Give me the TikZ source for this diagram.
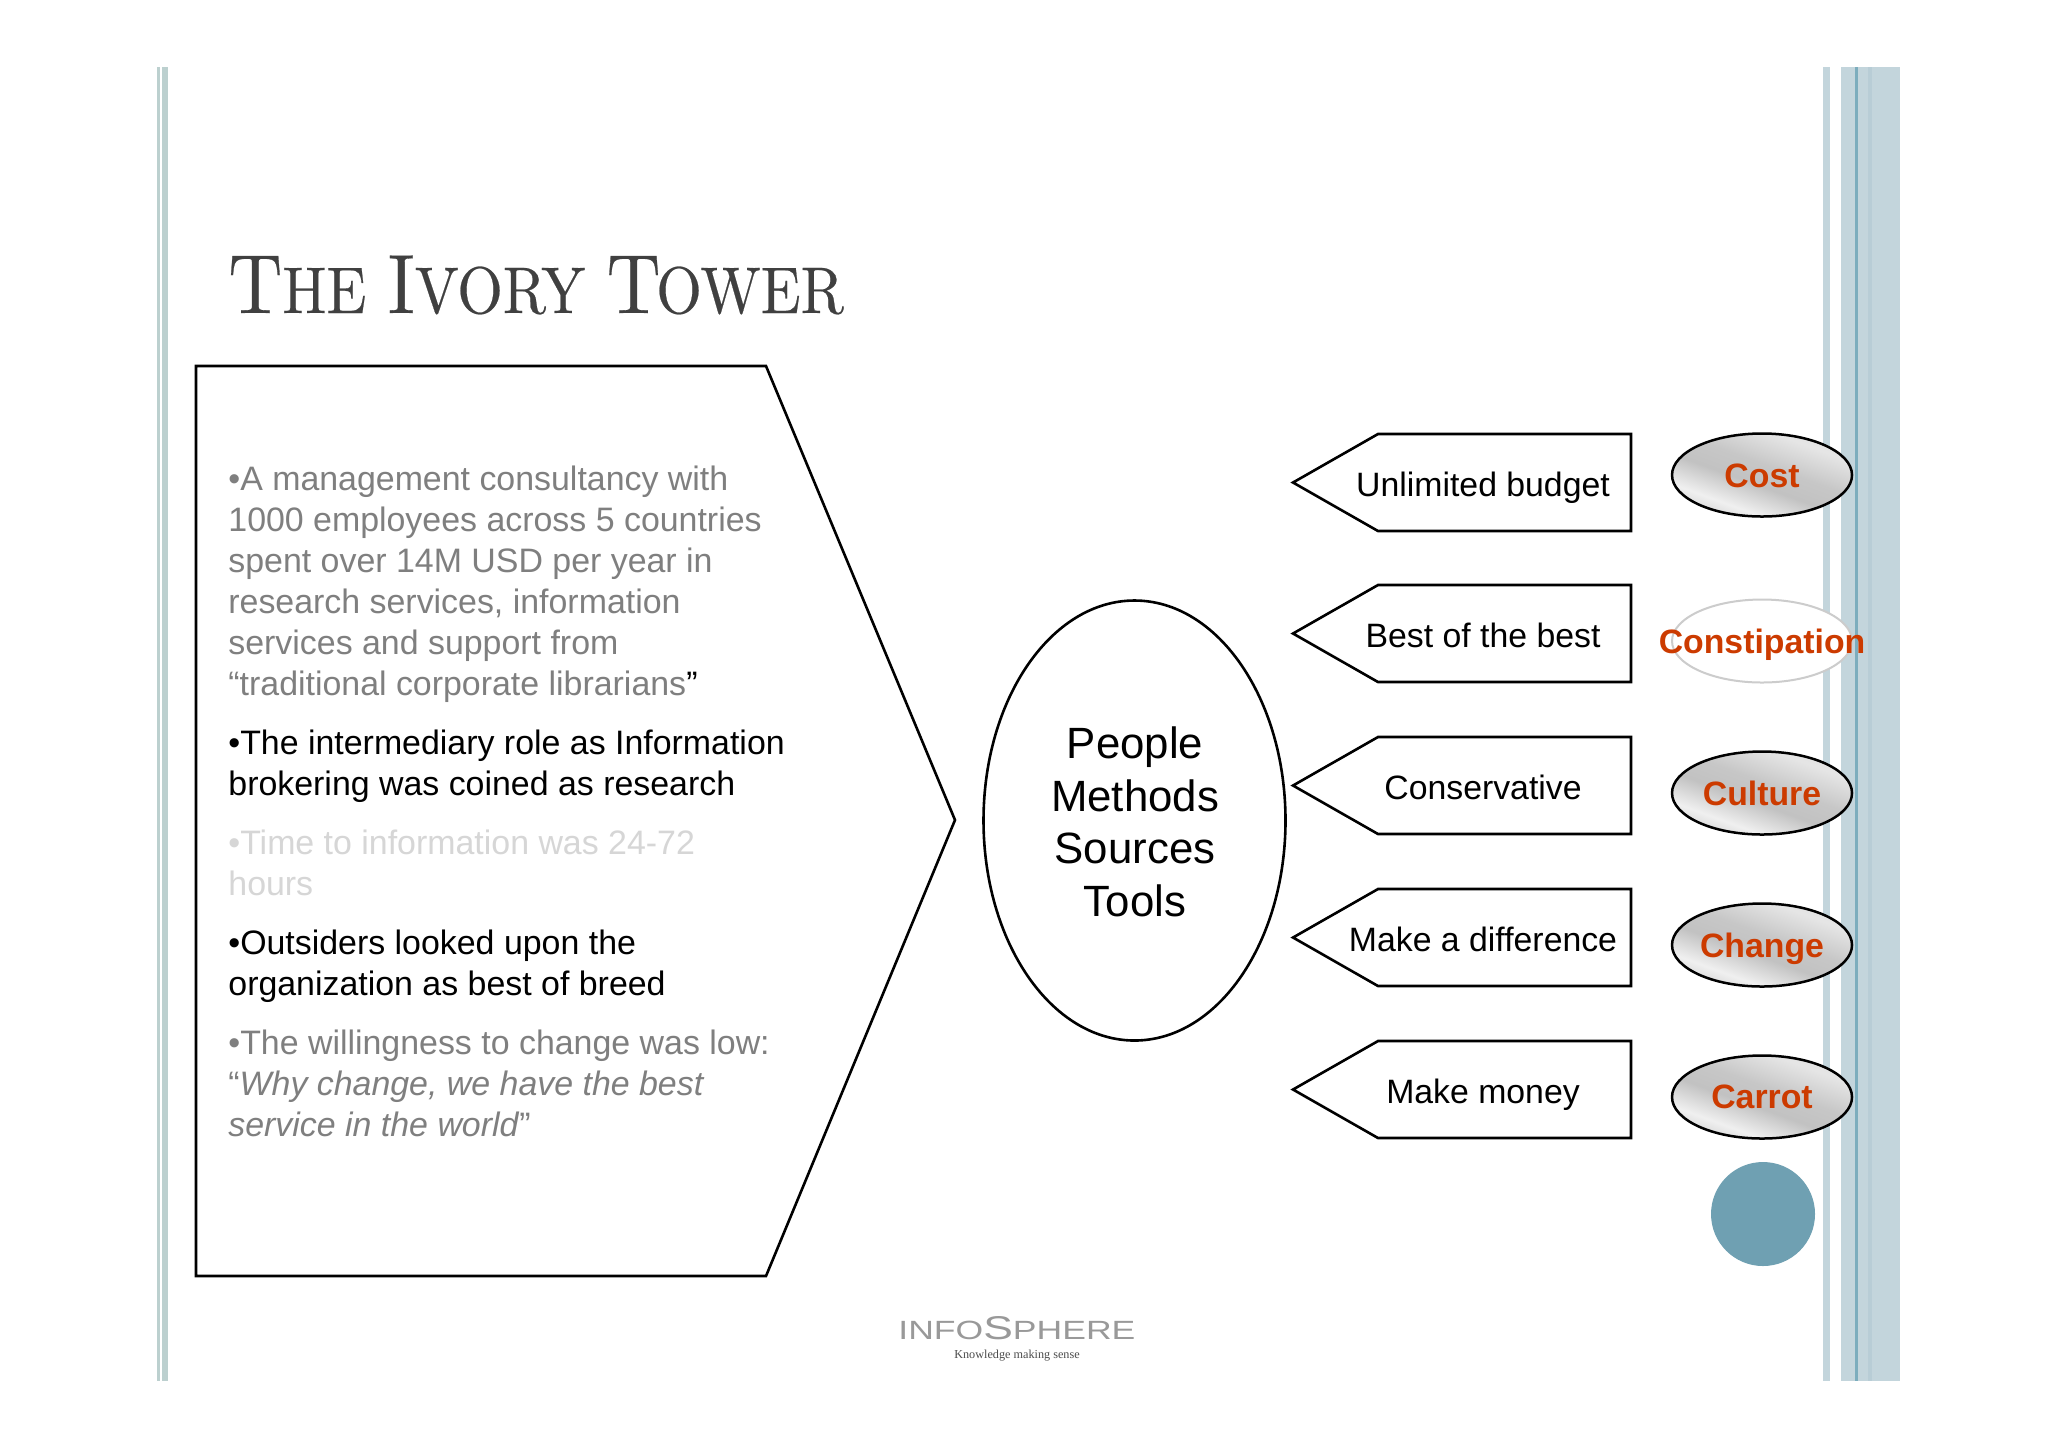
\documentclass[tikz,border=0pt]{standalone}
\usepackage{fontspec}
\setmainfont{Latin Modern Roman}
\newfontfamily\arialf{Liberation Sans}
\newfontfamily\timesf{Liberation Serif}
\newfontfamily\lmten[Extension=.otf,FakeBold=0.35]{lmroman10-regular}
\usetikzlibrary{shapes.geometric}
\definecolor{stripe}{HTML}{C3D5DC}
\definecolor{stripel}{HTML}{BCD0CF}
\definecolor{stripedk}{HTML}{B8CDD6}
\definecolor{teal}{HTML}{6FA0B2}
\definecolor{tealline}{HTML}{7CADBD}
\definecolor{redt}{HTML}{CC3B00}
\definecolor{titlec}{HTML}{404040}
\definecolor{midgray}{HTML}{7F7F7F}
\definecolor{lightt}{HTML}{D6D6D6}
\pgfdeclarehorizontalshading{sheen}{100bp}{
  color(0bp)=(black!22);
  color(30bp)=(black!10);
  color(45bp)=(black!22);
  color(55bp)=(black!24);
  color(68bp)=(black!6);
  color(80bp)=(black!22);
  color(100bp)=(black!28)}
\tikzset{
  x=0.5pt,y=-0.5pt,
  bodytext/.style={anchor=north west,inner sep=0pt,align=left,font=\arialf\fontsize{16.95}{20.5}\selectfont},
  tagshape/.style={draw=black,line width=1.3pt,line join=miter},
  taglabel/.style={anchor=base,inner sep=0pt,font=\arialf\fontsize{16.9}{20}\selectfont},
  oval/.style={ellipse,draw=black,line width=1.25pt,inner sep=0pt,minimum width=90pt,minimum height=41.5pt,shading=sheen,shading angle=-110},
  ovallabel/.style={anchor=base,inner sep=0pt,text=redt,font=\arialf\bfseries\fontsize{16.9}{20}\selectfont}
}
\newcommand{\st}{\rule{0pt}{14pt}}
\newcommand{\bigc}[1]{{\fontsize{42}{50}\selectfont #1}}
\newcommand{\smlc}[1]{{\fontsize{33}{50}\selectfont #1}}
\begin{document}
\begin{tikzpicture}
\useasboundingbox (0,0) rectangle (2048,1448);
\fill[white] (0,0) rectangle (2048,1448);
% side stripes
\fill[stripel] (157,67) rectangle (160,1381);
\fill[stripel] (162,67) rectangle (168,1381);
\fill[stripe] (1823,67) rectangle (1830,1381);
\fill[stripe] (1841,67) rectangle (1900,1381);
\fill[stripedk] (1868,67) rectangle (1872,1381);
\fill[tealline] (1855,67) rectangle (1858,1381);
% title
\node[anchor=base west,inner sep=0pt,text=titlec,font=\lmten] (title) at (228,313) {\scalebox{.89}[1]{\bigc{T}\smlc{HE}\hspace{12pt}\bigc{I}\smlc{VORY}\hspace{12pt}\bigc{T}\hspace{-2.5pt}\smlc{OWER}}};
% big pentagon
\draw[line width=1.3pt,line join=miter] (196,366) -- (766,366) -- (955,820) -- (766,1276) -- (196,1276) -- cycle;
\node[bodytext,text=midgray] (p1) at (228,462.5) {\st•A management consultancy with\\1000 employees across 5 countries\\spent over 14M USD per year in\\research services, information\\services and support from\\“traditional corporate librarians{\color{black}”}};
\node[bodytext,text=black] (p2) at (228,726) {\st•The intermediary role as Information\\brokering was coined as research};
\node[bodytext,text=lightt] (p3) at (228,826) {\st•Time to information was 24-72\\hours};
\node[bodytext,text=black] (p4) at (228,926) {\st•Outsiders looked upon the\\organization as best of breed};
\node[bodytext,text=midgray] (p5) at (228,1026) {\st•The willingness to change was low:\\“\textit{Why change, we have the best}\\\textit{service in the world}”};
% centre ellipse
\node[ellipse,draw=black,line width=1.3pt,inner sep=0pt,minimum width=151pt,minimum height=220pt] (centre) at (1134.5,820.5) {};
\node[inner sep=0pt,align=center,font=\arialf\fontsize{21.9}{26.3}\selectfont] (centrel) at (1135,822) {People\\Methods\\Sources\\Tools};
% tags
\foreach \i/\yy/\txt in {1/434/Unlimited budget,2/585/Best of the best,3/737/Conservative,4/889/Make a difference,5/1041/Make money}{
  \draw[tagshape] (1293,\yy+48.5) -- (1378,\yy) -- (1631,\yy) -- (1631,\yy+97) -- (1378,\yy+97) -- cycle;
  \node[taglabel] (tag\i) at (1483,\yy+62) {\txt};
}
% ovals
\node[oval] (cost) at (1762,475) {};
\node[oval,shading=axis,top color=white,bottom color=white,draw=black!20,line width=1pt] (const) at (1762,641) {};
\node[oval] (cult) at (1762,793) {};
\node[oval] (chan) at (1762,945) {};
\node[oval] (carr) at (1762,1097) {};
\node[ovallabel] (costl) at (1762,487) {Cost};
\node[ovallabel] (constl) at (1762,653) {Constipation};
\node[ovallabel] (cultl) at (1762,805) {Culture};
\node[ovallabel] (chanl) at (1762,957) {Change};
\node[ovallabel] (carrl) at (1762,1108) {Carrot};
% dot
\node[circle,fill=teal,inner sep=0pt,minimum size=52pt] (dot) at (1763,1214) {};
% logo
\node[anchor=base west,inner sep=0pt,text=black!40] (logo) at (898,1339) {\resizebox{118.5pt}{11.5pt}{\arialf\fontsize{14}{14}\selectfont INFO{\fontsize{17.5}{17}\selectfont S}PHERE}};
\node[anchor=base,inner sep=0pt,text=black!70,font=\timesf\fontsize{6.1}{7}\selectfont] (slogan) at (1017,1358) {Knowledge making sense};
\end{tikzpicture}
\end{document}
